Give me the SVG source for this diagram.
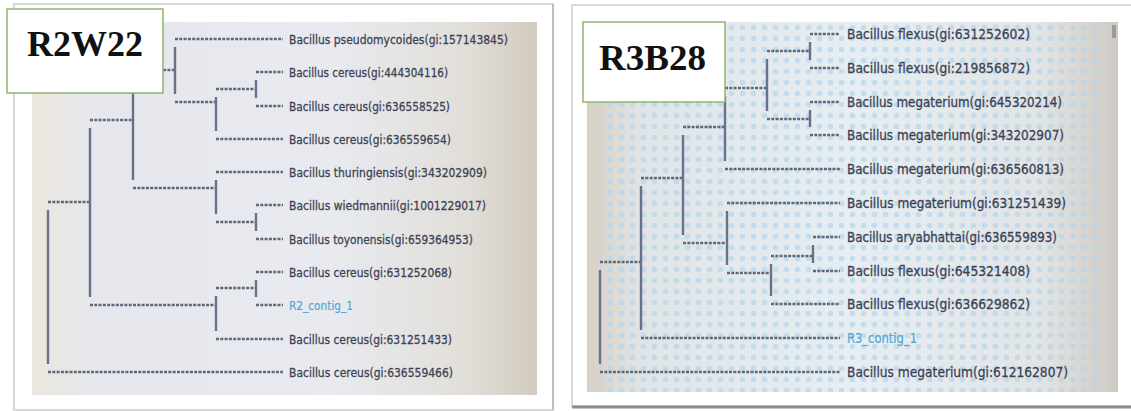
<svg xmlns="http://www.w3.org/2000/svg" width="1131" height="411" viewBox="0 0 1131 411">
<style>
.h{stroke:#5f6779;stroke-width:2.4;stroke-dasharray:3 1.3;fill:none}
.v{stroke:#67718a;stroke-width:2.4;fill:none}
.tl{font-family:"DejaVu Sans",Verdana,sans-serif;font-size:13px;fill:#3c4254;stroke:#3c4254;stroke-width:0.3}
.tr{font-family:"DejaVu Sans",Verdana,sans-serif;font-size:14px;fill:#3c4254;stroke:#3c4254;stroke-width:0.3}
.blue{fill:#4fa7d8;stroke:#4fa7d8;stroke-width:0.2}
.box{fill:#ffffff;stroke:#8fb56c;stroke-width:1.5}
.ttl{font-family:"Liberation Serif","Times New Roman",serif;font-weight:bold;font-size:35px;fill:#111111}
</style>
<defs>
<linearGradient id="gl" x1="0" y1="0" x2="1" y2="0">
<stop offset="0" stop-color="#ebe6dd"/>
<stop offset="0.12" stop-color="#e5e7ec"/>
<stop offset="0.6" stop-color="#e8eaef"/>
<stop offset="0.85" stop-color="#e2dfda"/>
<stop offset="1" stop-color="#d2cbc0"/>
</linearGradient>
<linearGradient id="gr" x1="0" y1="0" x2="1" y2="0">
<stop offset="0" stop-color="#d8d0c4"/>
<stop offset="0.1" stop-color="#e0e4e6"/>
<stop offset="0.5" stop-color="#e6eef3"/>
<stop offset="0.85" stop-color="#e2e4e5"/>
<stop offset="1" stop-color="#cfcac3"/>
</linearGradient>
<pattern id="dots" width="11" height="11" patternUnits="userSpaceOnUse">
<circle cx="5.5" cy="5.5" r="2.8" fill="#b6d5ea"/>
</pattern>
</defs>
<rect width="1131" height="411" fill="#ffffff"/>

<g id="panel-left">
<rect x="14" y="4" width="539" height="406" fill="#ffffff" stroke="#cccccc" stroke-width="1.5"/>
<line x1="553" y1="4" x2="553" y2="410" stroke="#bdbdbd" stroke-width="2"/>
<rect x="32" y="22" width="505" height="373" fill="url(#gl)"/>
</g>

<g id="panel-right">
<rect x="572" y="5" width="570" height="401" fill="#ffffff" stroke="#d0d0d0" stroke-width="1.5"/>
<line x1="572" y1="407" x2="1131" y2="407" stroke="#8e8e8e" stroke-width="3"/>
<rect x="587" y="22" width="531" height="370" fill="url(#gr)"/>
<rect x="600" y="22" width="500" height="370" fill="url(#dots)" opacity="0.7"/>
<rect x="1112" y="25" width="4" height="13" fill="#9a9a9a"/>
</g>

<g id="connectors-left">
<line class="h" x1="175" y1="39" x2="283" y2="39"/>
<line class="h" x1="256" y1="72" x2="283" y2="72"/>
<line class="h" x1="256" y1="106" x2="283" y2="106"/>
<line class="h" x1="216" y1="139" x2="283" y2="139"/>
<line class="h" x1="216" y1="172" x2="283" y2="172"/>
<line class="h" x1="256" y1="205" x2="283" y2="205"/>
<line class="h" x1="256" y1="239" x2="283" y2="239"/>
<line class="h" x1="256" y1="272" x2="283" y2="272"/>
<line class="h" x1="256" y1="305" x2="283" y2="305"/>
<line class="h" x1="216" y1="339" x2="283" y2="339"/>
<line class="h" x1="48" y1="372" x2="283" y2="372"/>
<line class="h" x1="216" y1="89" x2="256" y2="89"/>
<line class="h" x1="175" y1="102" x2="216" y2="102"/>
<line class="h" x1="133" y1="70" x2="175" y2="70"/>
<line class="h" x1="216" y1="222" x2="256" y2="222"/>
<line class="h" x1="133" y1="188" x2="216" y2="188"/>
<line class="h" x1="90" y1="120" x2="133" y2="120"/>
<line class="h" x1="216" y1="288" x2="256" y2="288"/>
<line class="h" x1="90" y1="305" x2="216" y2="305"/>
<line class="h" x1="48" y1="202" x2="90" y2="202"/>
<line class="v" x1="256" y1="80" x2="256" y2="98"/>
<line class="v" x1="216" y1="97" x2="216" y2="131"/>
<line class="v" x1="175" y1="47" x2="175" y2="94"/>
<line class="v" x1="256" y1="213" x2="256" y2="231"/>
<line class="v" x1="216" y1="180" x2="216" y2="214"/>
<line class="v" x1="133" y1="78" x2="133" y2="180"/>
<line class="v" x1="256" y1="280" x2="256" y2="297"/>
<line class="v" x1="216" y1="296" x2="216" y2="331"/>
<line class="v" x1="90" y1="128" x2="90" y2="297"/>
<line class="v" x1="48" y1="210" x2="48" y2="364"/>
</g>

<g id="connectors-right">
<line class="h" x1="810" y1="34" x2="840" y2="34"/>
<line class="h" x1="810" y1="68" x2="840" y2="68"/>
<line class="h" x1="810" y1="102" x2="840" y2="102"/>
<line class="h" x1="810" y1="135" x2="840" y2="135"/>
<line class="h" x1="725" y1="169" x2="840" y2="169"/>
<line class="h" x1="727" y1="203" x2="840" y2="203"/>
<line class="h" x1="813" y1="237" x2="840" y2="237"/>
<line class="h" x1="813" y1="271" x2="840" y2="271"/>
<line class="h" x1="771" y1="304" x2="840" y2="304"/>
<line class="h" x1="641" y1="338" x2="840" y2="338"/>
<line class="h" x1="600" y1="372" x2="840" y2="372"/>
<line class="h" x1="767" y1="51" x2="810" y2="51"/>
<line class="h" x1="767" y1="119" x2="810" y2="119"/>
<line class="h" x1="725" y1="88" x2="767" y2="88"/>
<line class="h" x1="683" y1="127" x2="725" y2="127"/>
<line class="h" x1="771" y1="256" x2="813" y2="256"/>
<line class="h" x1="727" y1="273" x2="771" y2="273"/>
<line class="h" x1="683" y1="243" x2="727" y2="243"/>
<line class="h" x1="641" y1="178" x2="683" y2="178"/>
<line class="h" x1="600" y1="262" x2="641" y2="262"/>
<line class="v" x1="810" y1="42" x2="810" y2="60"/>
<line class="v" x1="810" y1="110" x2="810" y2="127"/>
<line class="v" x1="767" y1="59" x2="767" y2="111"/>
<line class="v" x1="725" y1="96" x2="725" y2="161"/>
<line class="v" x1="813" y1="245" x2="813" y2="263"/>
<line class="v" x1="771" y1="264" x2="771" y2="296"/>
<line class="v" x1="727" y1="211" x2="727" y2="265"/>
<line class="v" x1="683" y1="135" x2="683" y2="235"/>
<line class="v" x1="641" y1="186" x2="641" y2="330"/>
<line class="v" x1="600" y1="270" x2="600" y2="364"/>
</g>

<g id="leaf-l1"><text class="tl" x="289" y="43.5" textLength="219" lengthAdjust="spacingAndGlyphs">Bacillus pseudomycoides(gi:157143845)</text></g>
<g id="leaf-l2"><text class="tl" x="289" y="76.5" textLength="159" lengthAdjust="spacingAndGlyphs">Bacillus cereus(gi:444304116)</text></g>
<g id="leaf-l3"><text class="tl" x="289" y="110.5" textLength="161" lengthAdjust="spacingAndGlyphs">Bacillus cereus(gi:636558525)</text></g>
<g id="leaf-l4"><text class="tl" x="289" y="143.5" textLength="162" lengthAdjust="spacingAndGlyphs">Bacillus cereus(gi:636559654)</text></g>
<g id="leaf-l5"><text class="tl" x="289" y="176.5" textLength="198" lengthAdjust="spacingAndGlyphs">Bacillus thuringiensis(gi:343202909)</text></g>
<g id="leaf-l6"><text class="tl" x="289" y="209.5" textLength="197" lengthAdjust="spacingAndGlyphs">Bacillus wiedmannii(gi:1001229017)</text></g>
<g id="leaf-l7"><text class="tl" x="289" y="243.5" textLength="184" lengthAdjust="spacingAndGlyphs">Bacillus toyonensis(gi:659364953)</text></g>
<g id="leaf-l8"><text class="tl" x="289" y="276.5" textLength="163" lengthAdjust="spacingAndGlyphs">Bacillus cereus(gi:631252068)</text></g>
<g id="leaf-l9"><text class="tl blue" x="289" y="309.5" textLength="64" lengthAdjust="spacingAndGlyphs">R2_contig_1</text></g>
<g id="leaf-l10"><text class="tl" x="289" y="343.5" textLength="163" lengthAdjust="spacingAndGlyphs">Bacillus cereus(gi:631251433)</text></g>
<g id="leaf-l11"><text class="tl" x="289" y="376.5" textLength="164" lengthAdjust="spacingAndGlyphs">Bacillus cereus(gi:636559466)</text></g>

<g id="leaf-r1"><text class="tr" x="847" y="38.5" textLength="183" lengthAdjust="spacingAndGlyphs">Bacillus flexus(gi:631252602)</text></g>
<g id="leaf-r2"><text class="tr" x="847" y="72.5" textLength="183" lengthAdjust="spacingAndGlyphs">Bacillus flexus(gi:219856872)</text></g>
<g id="leaf-r3"><text class="tr" x="847" y="106.5" textLength="215" lengthAdjust="spacingAndGlyphs">Bacillus megaterium(gi:645320214)</text></g>
<g id="leaf-r4"><text class="tr" x="847" y="139.5" textLength="217" lengthAdjust="spacingAndGlyphs">Bacillus megaterium(gi:343202907)</text></g>
<g id="leaf-r5"><text class="tr" x="847" y="173.5" textLength="217" lengthAdjust="spacingAndGlyphs">Bacillus megaterium(gi:636560813)</text></g>
<g id="leaf-r6"><text class="tr" x="847" y="207.5" textLength="219" lengthAdjust="spacingAndGlyphs">Bacillus megaterium(gi:631251439)</text></g>
<g id="leaf-r7"><text class="tr" x="847" y="241.5" textLength="210" lengthAdjust="spacingAndGlyphs">Bacillus aryabhattai(gi:636559893)</text></g>
<g id="leaf-r8"><text class="tr" x="847" y="275.5" textLength="183" lengthAdjust="spacingAndGlyphs">Bacillus flexus(gi:645321408)</text></g>
<g id="leaf-r9"><text class="tr" x="847" y="308.5" textLength="183" lengthAdjust="spacingAndGlyphs">Bacillus flexus(gi:636629862)</text></g>
<g id="leaf-r10"><text class="tr blue" x="847" y="342.5" textLength="70" lengthAdjust="spacingAndGlyphs">R3_contig_1</text></g>
<g id="leaf-r11"><text class="tr" x="847" y="376.5" textLength="221" lengthAdjust="spacingAndGlyphs">Bacillus megaterium(gi:612162807)</text></g>

<g id="title-r2w22">
<rect class="box" x="7" y="9" width="156" height="84"/>
<text class="ttl" x="27" y="56" textLength="116" lengthAdjust="spacingAndGlyphs">R2W22</text>
</g>
<g id="title-r3b28">
<rect class="box" x="583" y="22" width="142" height="80"/>
<text class="ttl" x="599" y="70" textLength="107" lengthAdjust="spacingAndGlyphs">R3B28</text>
</g>
</svg>
